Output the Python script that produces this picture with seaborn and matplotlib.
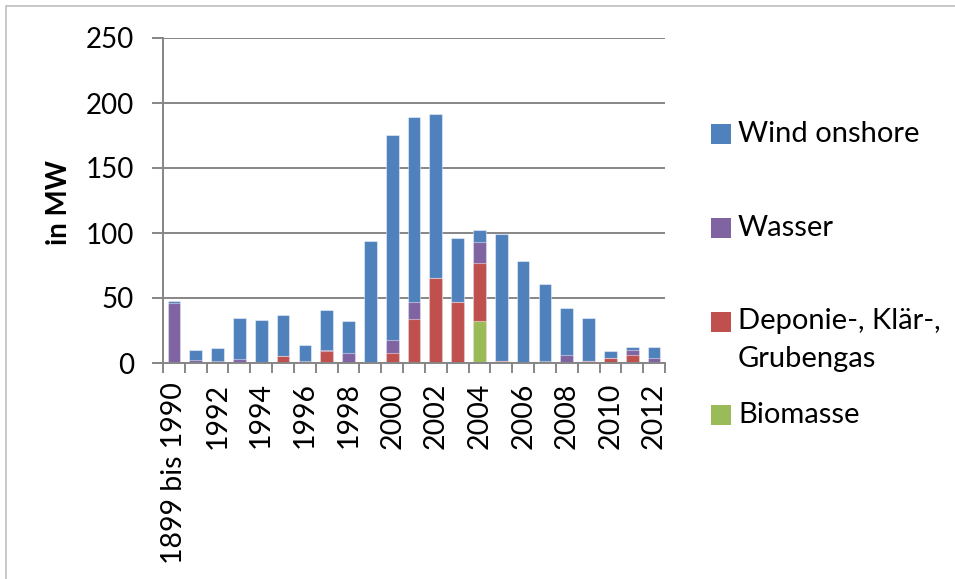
import numpy as np
import pandas as pd
import matplotlib
matplotlib.use("Agg")
import matplotlib.pyplot as plt
from matplotlib.patches import Rectangle
import seaborn as sns

categories = ["1899 bis 1990", "1991", "1992", "1993", "1994", "1995", "1996", "1997",
              "1998", "1999", "2000", "2001", "2002", "2003", "2004", "2005", "2006",
              "2007", "2008", "2009", "2010", "2011", "2012"]
biomasse = [0, 0, 0, 0, 0, 0, 0, 0, 0, 0, 0, 0, 0, 0, 32.4, 0, 0, 0, 0, 0, 0, 0, 0]
deponie = [0, 0, 0, 0, 0, 5.4, 1.0, 9.0, 0, 0, 7.7, 33.7, 65.6, 46.8, 44.5, 1.3, 0, 0, 0, 1.5, 3.9, 6.4, 0]
wasser = [46.0, 2.5, 1.5, 2.8, 0, 0, 0.5, 1.0, 7.7, 0, 10.0, 13.3, 0, 0, 15.9, 0, 0, 1.5, 6.4, 0, 0, 3.6, 3.9]
wind = [2.0, 7.5, 9.8, 32.2, 33.4, 31.9, 12.4, 30.9, 24.7, 94.0, 157.9, 142.0, 125.9, 49.6, 9.8, 98.2,
        78.1, 59.4, 36.0, 33.5, 5.1, 2.6, 8.7]
series_names = ["Biomasse", "Deponie-, Klär-,\nGrubengas", "Wasser", "Wind onshore"]
colors = ["#9BBB59", "#C0504D", "#8064A2", "#4F81BD"]
ylabel = "in MW"

sns.set_theme(style="white")
plt.rcParams["font.family"] = ["Lato", "DejaVu Sans"]
plt.rcParams["text.color"] = "black"

df = pd.DataFrame({"cat": categories, "Biomasse": biomasse, "Deponie": deponie,
                   "Wasser": wasser, "Wind": wind})
cum = df[["Biomasse", "Deponie", "Wasser", "Wind"]].cumsum(axis=1)

fig = plt.figure(figsize=(9.55, 5.79), dpi=100)
ax = fig.add_axes([163 / 955, 1 - 363 / 579, (665 - 163) / 955, (363 - 38) / 579])

cols = ["Wind", "Wasser", "Deponie", "Biomasse"]
cols_colors = colors[::-1]
for col, c in zip(cols, cols_colors):
    sns.barplot(x=df["cat"], y=cum[col], order=categories, color=c, saturation=1,
                width=0.58, ax=ax, edgecolor=(1, 1, 1, 0.45), linewidth=0.8, zorder=3)

ax.set_ylim(0, 250)
ax.set_xlim(-0.5, len(categories) - 0.5)
ax.set_yticks([0, 50, 100, 150, 200, 250])
ax.yaxis.grid(True, color="#868686", linewidth=1.4, zorder=0)
ax.set_axisbelow(True)
for s in ["top", "right"]:
    ax.spines[s].set_visible(False)
for s in ["left", "bottom"]:
    ax.spines[s].set_color("#868686")
    ax.spines[s].set_linewidth(1.4)
    ax.spines[s].set_zorder(4)

ax.set_xticks(range(len(categories)))
ax.set_xticklabels([c if i % 2 == 0 else "" for i, c in enumerate(categories)],
                   rotation=90, fontsize=20.5, color="black")
ax.set_xticks(np.arange(-0.5, len(categories), 1.0), minor=True)
ax.tick_params(axis="x", which="major", length=0, pad=14)
ax.tick_params(axis="x", which="minor", length=7, width=1.4, color="#868686", bottom=True)
ax.tick_params(axis="y", which="major", length=8, width=1.4, color="#868686", left=True,
               labelsize=20, pad=13, labelcolor="black")
ax.set_xlabel("")
ax.set_ylabel(ylabel, fontsize=20, fontweight="bold", color="black")
ax.yaxis.set_label_coords((72 - 163) / 502, (363 - 203) / 325)

# legend (manual layout to match spacing)
leg_items = [("Wind onshore", colors[3], 134), ("Wasser", colors[2], 228),
             ("Deponie-, Klär-,\nGrubengas", colors[1], 322), ("Biomasse", colors[0], 415)]
for label, c, yc in leg_items:
    fig.patches.append(Rectangle((711 / 955, 1 - (yc + 10) / 579), 20 / 955, 20 / 579,
                                 transform=fig.transFigure, facecolor=c, edgecolor="none"))
    if "\n" in label:
        fig.text(738 / 955, 1 - (yc - 14) / 579, label, fontsize=21, va="top", ha="left",
                 linespacing=1.55)
    else:
        fig.text(738 / 955, 1 - yc / 579, label, fontsize=21, va="center", ha="left")

# outer border
fig.patches.append(Rectangle((6 / 955, -0.1), 1.2, 1 - 6 / 579 + 0.1, transform=fig.transFigure,
                             facecolor="none", edgecolor="#BFBFBF", linewidth=1.2))

fig.savefig("out.png", dpi=100)
